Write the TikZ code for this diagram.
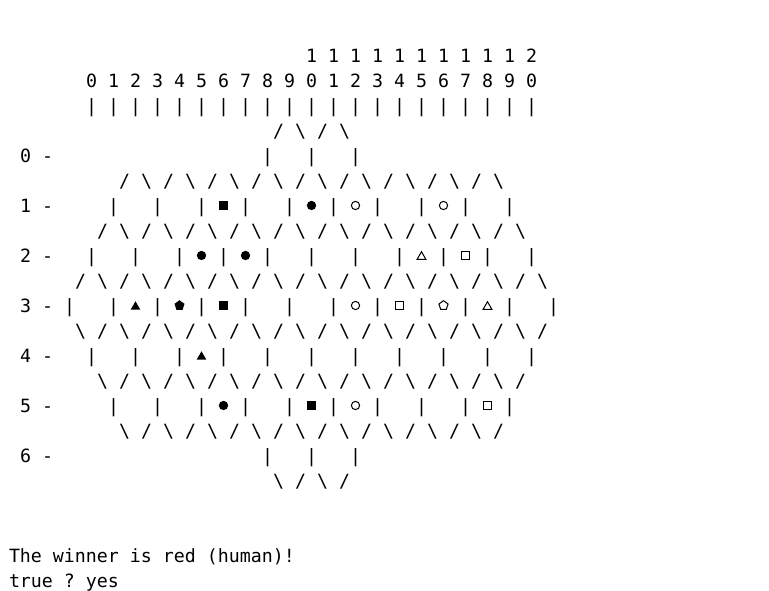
\documentclass[tikz,border=0pt]{standalone}
\usepackage{fontspec}
\newfontfamily\asciimono{DejaVu Sans Mono}
\usetikzlibrary{shapes.geometric}
\frenchspacing
\begin{document}
\begin{tikzpicture}[x=0.75pt,y=-0.75pt,
  ch/.style={anchor=base,inner sep=0pt,outer sep=0pt,font=\asciimono\fontsize{13.7}{16}\selectfont},
  txt/.style={anchor=base west,inner sep=0pt,outer sep=0pt,font=\asciimono\fontsize{13.7}{16}\selectfont\frenchspacing},
  sym/.style={inner sep=0pt,outer sep=0pt},
  fsq/.style={sym,rectangle,fill=black,minimum size=6.4pt},
  osq/.style={sym,rectangle,draw=black,line width=0.75pt,minimum size=5.8pt},
  fci/.style={sym,circle,fill=black,minimum size=7pt},
  oci/.style={sym,circle,draw=black,line width=0.75pt,minimum size=6.2pt},
  ftr/.style={sym,regular polygon,regular polygon sides=3,fill=black,minimum size=8.3pt,yshift=-1pt},
  otr/.style={sym,regular polygon,regular polygon sides=3,draw=black,line width=0.75pt,minimum size=7.6pt,yshift=-1pt},
  fpe/.style={sym,regular polygon,regular polygon sides=5,fill=black,minimum size=7.9pt},
  ope/.style={sym,regular polygon,regular polygon sides=5,draw=black,line width=0.75pt,minimum size=7.2pt}]
\useasboundingbox (0,0) rectangle (769,591);
% column labels
\foreach \k in {10,...,19}
  \node[ch] (t\k) at ({14.5+11*(7+2*\k)},62.5) {1};
\node[ch] (t20) at ({14.5+11*47},62.5) {2};
\foreach \k in {0,...,20}{
  \pgfmathtruncatemacro\d{mod(\k,10)}
  \node[ch] (u\k) at ({14.5+11*(7+2*\k)},87.5) {\d};
}
% row labels
\foreach \r in {0,...,6}{
  \pgfmathtruncatemacro\l{4+2*\r}
  \node[ch] (r\r) at ({14.5+11*1},{62.5+25*\l}) {\r};
  \node[ch] (d\r) at ({14.5+11*3},{62.5+25*\l}) {-};
}
% pipes
\foreach \l/\s/\t/\e in {2/7/9/47, 4/23/27/31, 6/9/13/45, 8/7/11/47, 10/5/9/49, 12/7/11/47, 14/9/13/45, 16/23/27/31}
  \foreach \i in {\s,\t,...,\e}
    \node[ch] (p\l-\i) at ({14.5+11*\i},{62.5+25*\l}) {|};
% slash lines starting with /
\foreach \l/\s/\t/\e in {3/24/28/28, 5/10/14/42, 7/8/12/44, 9/6/10/46}
  \foreach \i in {\s,\t,...,\e}{
    \node[ch] (f\l-\i) at ({14.5+11*\i},{62.5+25*\l}) {/};
    \node[ch] (b\l-\i) at ({14.5+11*(\i+2)},{62.5+25*\l}) {\textbackslash};
  }
% slash lines starting with \
\foreach \l/\s/\t/\e in {11/6/10/46, 13/8/12/44, 15/10/14/42, 17/24/28/28}
  \foreach \i in {\s,\t,...,\e}{
    \node[ch] (b\l-\i) at ({14.5+11*\i},{62.5+25*\l}) {\textbackslash};
    \node[ch] (f\l-\i) at ({14.5+11*(\i+2)},{62.5+25*\l}) {/};
  }
% pieces
\foreach \l/\i/\st in {6/19/fsq, 6/27/fci, 6/31/oci, 6/39/oci,
                       8/17/fci, 8/21/fci, 8/37/otr, 8/41/osq,
                       10/11/ftr, 10/15/fpe, 10/19/fsq, 10/31/oci, 10/35/osq, 10/39/ope, 10/43/otr,
                       12/17/ftr,
                       14/19/fci, 14/27/fsq, 14/31/oci, 14/43/osq}
  \node[\st] (m\l-\i) at ({14.5+11*\i},{55.5+25*\l}) {};
% messages
\node[txt] (win) at (9,562.5) {The winner is red (human)!};
\node[txt] (ans) at (9,587.5) {true ? yes};
\end{tikzpicture}
\end{document}
